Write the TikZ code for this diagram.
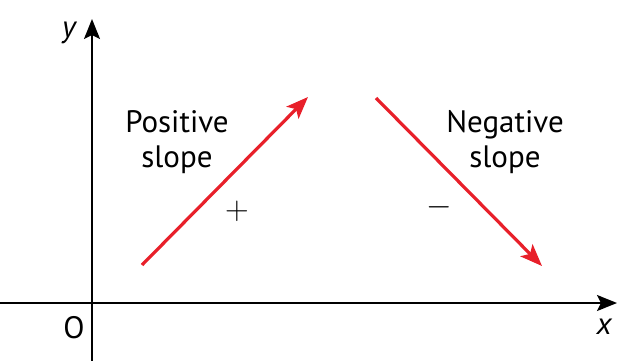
\documentclass[tikz,border=0pt]{standalone}
\usepackage{fontspec}
\usepackage{graphicx}
\setmainfont{PT Sans}
\usetikzlibrary{arrows.meta}
\definecolor{slopered}{HTML}{E8202A}
\begin{document}
\begin{tikzpicture}[x=1pt,y=-1pt,
  axis/.style={line width=1.8pt,black,-{Stealth[length=20pt,width=16pt,inset=4pt]}},
  slopearrow/.style={line width=3.2pt,slopered,-{Stealth[length=22pt,width=17pt,inset=5pt]}},
  lbl/.style={font=\fontsize{31}{35}\selectfont,align=center,inner sep=0pt},
  sign/.style={inner sep=0pt}]
\useasboundingbox (0,0) rectangle (618,361);
\coordinate (ybot) at (92,361);
\coordinate (ytop) at (92,19);
\coordinate (xl) at (0,303);
\coordinate (xr) at (617,303);
\draw[axis] (ybot) -- (ytop);
\draw[axis] (xl) -- (xr);
\node[lbl,font=\fontsize{31}{35}\selectfont\itshape] (ylab) at (69,33) {y};
\node[lbl,font=\fontsize{31}{35}\selectfont\itshape] (xlab) at (604,327) {x};
\node[lbl] (olab) at (74,328) {O};
\coordinate (p1) at (142,265);
\coordinate (p2) at (308,97);
\coordinate (n1) at (376,98);
\coordinate (n2) at (542,266);
\draw[slopearrow] (p1) -- (p2);
\draw[slopearrow] (n1) -- (n2);
\node[lbl] (pos) at (177,142) {Positive\\slope};
\node[lbl] (neg) at (505,142) {Negative\\slope};
\node[sign] (plus) at (237,211) {\scalebox{1.9}{\LARGE$+$}};
\node[sign] (minus) at (439,207) {\scalebox{1.9}{\LARGE$-$}};
\end{tikzpicture}
\end{document}
